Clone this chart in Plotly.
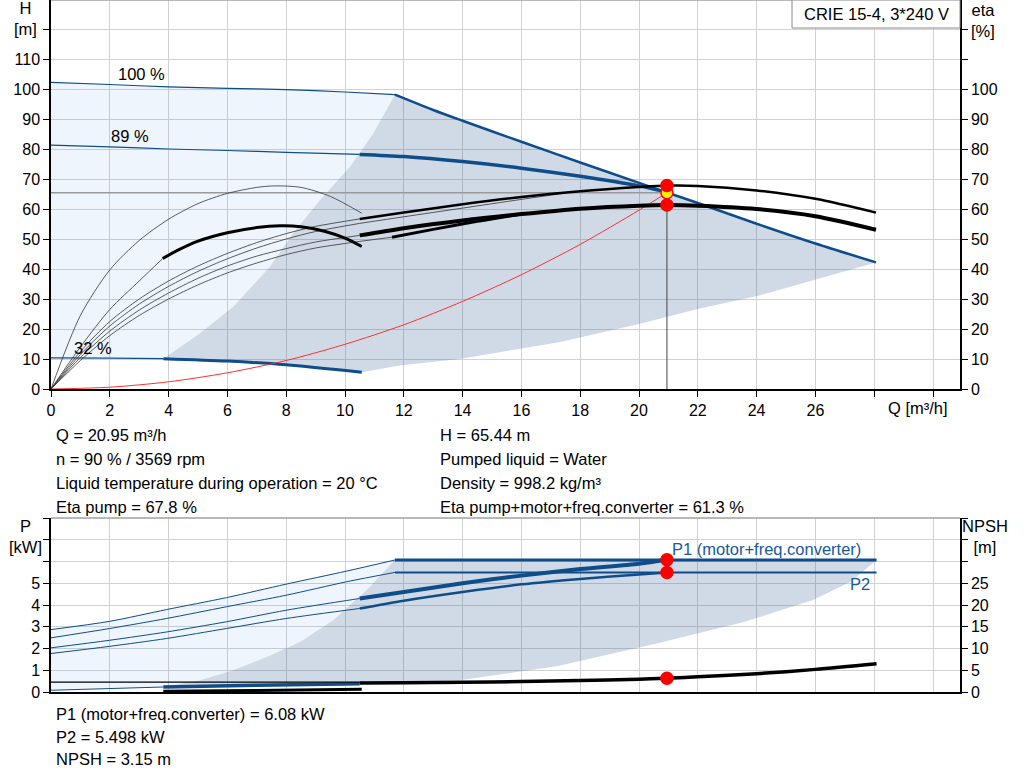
import plotly.graph_objects as go

# duty point
q_op = 20.95
h_op = 65.44
eta_pump_op = 67.8
eta_tot_op = 61.3
p1_op = 6.08
p2_op = 5.498
npsh_op = 3.15

# ---- H curves [m] ----
q_h100 = [0, 2, 4, 6, 8, 10, 11.7]
h_h100 = [102.2, 101.5, 100.7, 100.2, 99.8, 99.0, 98.1]
q_hmax = [11.7, 13, 14, 16, 18, 20, 20.95, 22, 24, 26, 28.06]
h_hmax = [98.1, 93.0, 89.4, 82.4, 75.5, 68.7, 65.5, 62.0, 55.1, 48.5, 42.2]
q_h89 = [0, 2, 4, 6, 8, 10.5]
h_h89 = [81.3, 80.7, 80.0, 79.5, 78.9, 78.2]
q_h89b = [10.5, 12, 14, 16, 18, 20, 20.95]
h_h89b = [78.2, 77.5, 75.8, 73.6, 70.9, 67.7, 65.6]
q_h32 = [0, 2, 3.82]
h_h32 = [10.4, 10.3, 10.1]
q_h32b = [3.82, 6, 8, 10.57]
h_h32b = [10.1, 9.3, 8.1, 5.6]

# range limits in H diagram
q_left = [3.82, 5.07, 6.2, 7.45, 8.24, 9.15, 10.17, 10.96, 11.7]
h_left = [10.1, 18.6, 27.4, 40.8, 51.9, 63.0, 74.1, 85.2, 98.1]
q_low = [10.57, 11.86, 13.9, 17.28, 20, 22, 24.06, 26.1, 28.06]
h_low = [5.6, 7.8, 10.0, 15.6, 21.7, 26.7, 31.1, 36.7, 42.2]

# system curve
q_sys = [0, 2, 4, 6, 8, 10, 12, 14, 16, 18, 20, 20.95]
h_sys = [0, 0.6, 2.4, 5.4, 9.5, 14.9, 21.4, 29.2, 38.1, 48.2, 59.6, 65.44]

# ---- eta curves [%] ----
q_eA = [0, 1, 2, 3, 4, 5, 6, 7, 7.6, 8.5, 9.5, 10.57]
e_eA = [0, 24.5, 39.7, 49.5, 56.6, 61.8, 65.2, 67.2, 67.7, 67.2, 64.2, 58.6]
q_eB = [0, 1, 2, 3, 3.8]
e_eB = [0, 14, 26.5, 36, 43.5]
q_eBb = [3.8, 4.3, 5, 6, 7, 7.8, 8.5, 9.3, 10, 10.57]
e_eBb = [43.5, 46.2, 49.3, 52.1, 53.8, 54.4, 54.1, 52.6, 50.3, 47.5]
q_fan = [0, 1, 2, 3, 4, 5, 6, 7, 8, 9, 10.5]
e_f1 = [0, 12.5, 22.5, 30, 36, 41, 45.2, 48.8, 51.8, 54.2, 56.7]
e_f2 = [0, 11.5, 21, 28.3, 34.2, 39.2, 43.4, 47, 50, 52.5, 55.2]
e_f3 = [0, 10.5, 19.3, 26.3, 32, 36.9, 41, 44.3, 46.8, 49.0, 51.2]
e_f4 = [0, 9.5, 17.8, 24.5, 30, 34.7, 38.7, 42, 44.8, 47, 49.2]
q_f2b = [10.5, 12, 14, 16, 17.5]
e_f2b = [55.2, 57.4, 60.3, 63.2, 65.3]
q_f4b = [10.5, 11.6]
e_f4b = [49.2, 50.6]
q_f4c = [11.6, 13, 14.5, 16]
e_f4c = [50.6, 53.2, 55.9, 58.3]
q_etap = [10.5, 12, 14, 16, 18, 20, 20.95, 22, 24, 26, 28.06]
e_etap = [56.7, 58.8, 61.6, 64.0, 65.9, 67.3, 67.8, 67.7, 66.2, 63.4, 58.8]
q_etat = [10.5, 12, 14, 16, 18, 20, 20.95, 22, 24, 26, 28.06]
e_etat = [51.2, 53.6, 56.2, 58.3, 60.1, 61.1, 61.3, 61.1, 60.0, 57.6, 53.1]

# ---- power curves [kW] ----
q_p100 = [0, 2, 3.93, 5.97, 8, 10.06, 11.7]
p1_100 = [2.87, 3.25, 3.79, 4.34, 4.96, 5.56, 6.07]
p2_100 = [2.49, 2.92, 3.38, 3.92, 4.45, 5.07, 5.5]
q_pmax = [11.7, 28.08]
p1_max = [6.07, 6.07]
p2_max = [5.5, 5.5]
q_p89 = [0, 2, 3.93, 5.97, 8, 10.5]
p1_89 = [2.03, 2.38, 2.76, 3.23, 3.76, 4.3]
p2_89 = [1.77, 2.1, 2.46, 2.92, 3.38, 3.84]
q_pop = [10.5, 12, 14, 16, 18, 20, 20.95]
p1_op_c = [4.3, 4.6, 5.0, 5.35, 5.65, 5.9, 6.08]
p2_op_c = [3.84, 4.2, 4.6, 4.95, 5.2, 5.4, 5.498]
q_p32 = [0, 3.82]
p_p32 = [0.08, 0.23]
q_p32b = [3.82, 7, 10.5]
p_p32b = [0.23, 0.31, 0.38]
q_p32k = [3.82, 7, 10.57]
p_p32k = [0.03, 0.07, 0.13]

q_pleft = [3.82, 5.07, 6.2, 7.34, 8.47, 9.6, 10.74, 11.7]
p_pleft = [0.23, 0.54, 1.0, 1.61, 2.3, 3.3, 4.69, 6.07]
q_plow = [10.5, 12.1, 13.9, 17.25, 20.6, 23.6, 25.9, 27.2, 28.08]
p_plow = [0.38, 0.46, 0.54, 1.2, 2.23, 3.23, 4.22, 5.07, 6.07]

# ---- NPSH [m] ----
q_npsh0 = [0, 10.5]
npsh0 = [2.25, 2.25]
q_npsh = [10.5, 12, 14, 16, 18, 20, 20.95, 22, 24, 26, 28.08]
npsh = [2.05, 2.1, 2.25, 2.4, 2.65, 2.95, 3.15, 3.5, 4.2, 5.2, 6.5]

BLUE = '#0f4d8a'
LIGHT = 'rgba(0,102,204,0.067)'
DARK = 'rgba(20,70,130,0.2)'
GRID = '#d2d2d2'
FONT = 'Arial, Liberation Sans, sans-serif'
TXT = 16.5

# pixel -> paper helpers (margins l=51 r=64 t=0 b=89)
W, H = 1024, 781
ML, MR, MT, MB = 51, 64, 0, 89
PW, PH = W - ML - MR, H - MT - MB


def px(x):
    return (x - ML) / PW


def py(y):
    return (H - MB - y) / PH


fig = go.Figure()


def line(x, y, width, color=BLUE, xa='x', ya='y', shape='spline'):
    fig.add_trace(go.Scatter(x=x, y=y, mode='lines', xaxis=xa, yaxis=ya,
                             line=dict(color=color, width=width, shape=shape, smoothing=0.8),
                             hoverinfo='skip', showlegend=False))


def poly(x, y, color, xa='x', ya='y'):
    fig.add_trace(go.Scatter(x=x, y=y, mode='lines', fill='toself', fillcolor=color,
                             xaxis=xa, yaxis=ya, line=dict(width=0),
                             hoverinfo='skip', showlegend=False))


# fills, H diagram
poly(q_h100 + q_left[::-1] + q_h32[::-1], h_h100 + h_left[::-1] + h_h32[::-1], LIGHT)
poly(q_left + q_hmax[1:] + q_low[::-1] + q_h32b[::-1],
     h_left + h_hmax[1:] + h_low[::-1] + h_h32b[::-1], DARK)

# fills, P diagram
poly(q_p100 + q_pleft[::-1] + q_p32[::-1], p1_100 + p_pleft[::-1] + p_p32[::-1],
     LIGHT, 'x2', 'y3')
poly(q_pleft + q_pmax[1:] + q_plow[::-1] + q_p32b[::-1],
     p_pleft + p1_max[1:] + p_plow[::-1] + p_p32b[::-1], DARK, 'x2', 'y3')

# H curves
line(q_h100, h_h100, 1.2)
line(q_hmax, h_hmax, 2.5)
line(q_h89, h_h89, 1.2)
line(q_h89b, h_h89b, 3.5)
line(q_h32, h_h32, 1.2)
line(q_h32b, h_h32b, 3)

# duty point lines + system curve
line([0, q_op], [h_op, h_op], 1.5, '#9a9a9a', shape='linear')
line([q_op, q_op], [0, h_op], 1, '#444444', shape='linear')
line(q_sys, h_sys, 1, '#ff3030')

# eta curves
line(q_eA, e_eA, 0.8, '#333333', ya='y2')
line(q_eB, e_eB, 0.8, '#333333', ya='y2')
for ee in [e_f1, e_f2, e_f3, e_f4]:
    line(q_fan, ee, 0.8, '#333333', ya='y2')
line(q_f2b, e_f2b, 0.8, '#333333', ya='y2')
line(q_f4b, e_f4b, 0.8, '#333333', ya='y2')
line(q_eBb, e_eBb, 3, 'black', ya='y2')
line(q_f4c, e_f4c, 3, 'black', ya='y2')
line(q_etap, e_etap, 2.5, 'black', ya='y2')
line(q_etat, e_etat, 4, 'black', ya='y2')

# P curves
line(q_p100, p1_100, 1, BLUE, 'x2', 'y3')
line(q_p100, p2_100, 1, BLUE, 'x2', 'y3')
line(q_pmax, p1_max, 3, BLUE, 'x2', 'y3', 'linear')
line(q_pmax, p2_max, 2, BLUE, 'x2', 'y3', 'linear')
line(q_p89, p1_89, 1, BLUE, 'x2', 'y3')
line(q_p89, p2_89, 1, BLUE, 'x2', 'y3')
line(q_pop, p1_op_c, 4, BLUE, 'x2', 'y3')
line(q_pop, p2_op_c, 2.5, BLUE, 'x2', 'y3')
line(q_p32, p_p32, 1, BLUE, 'x2', 'y3', 'linear')
line(q_p32b, p_p32b, 3.5, BLUE, 'x2', 'y3')
line(q_p32k, p_p32k, 3, 'black', 'x2', 'y3')

# NPSH
line(q_npsh0, npsh0, 1.2, 'black', 'x2', 'y4', 'linear')
line(q_npsh, npsh, 3.5, 'black', 'x2', 'y4')


# duty point markers
def dot(x, y, ya, xa='x', fill='#ff0000', edge='#ff0000'):
    fig.add_trace(go.Scatter(x=[x], y=[y], mode='markers', xaxis=xa, yaxis=ya,
                             marker=dict(size=12, color=fill, line=dict(color=edge, width=1.5)),
                             hoverinfo='skip', showlegend=False))


dot(q_op, eta_pump_op, 'y2')
dot(q_op, h_op, 'y', fill='#ffee00')
dot(q_op, eta_tot_op, 'y2')
dot(q_op, p1_op, 'y3', 'x2')
dot(q_op, p2_op, 'y3', 'x2')
dot(q_op, npsh_op, 'y4', 'x2')

top_dom = [py(389), 1]
bot_dom = [0, py(518)]
xr = [0, PW / 29.4]
ax = dict(showline=True, linecolor='black', linewidth=1.5, ticks='outside', ticklen=6,
          tickcolor='black', tickfont=dict(size=16, color='black', family=FONT),
          gridcolor=GRID, gridwidth=1, zeroline=False)

q_ticks = list(range(0, 31, 2))
q_text = [str(v) if v <= 26 else '' for v in q_ticks]

fig.update_layout(
    width=W, height=H, margin=dict(l=ML, r=MR, t=MT, b=MB),
    paper_bgcolor='white', plot_bgcolor='white',
    font=dict(family=FONT, size=TXT, color='black'),
    xaxis=dict(ax, domain=[0, 1], anchor='y', range=xr, tickvals=q_ticks, ticktext=q_text),
    xaxis2=dict(ax, domain=[0, 1], anchor='y3', range=xr, tickvals=q_ticks,
                showticklabels=False, ticks=''),
    yaxis=dict(ax, domain=top_dom, anchor='x', range=[0, 389 / 3],
               tickvals=list(range(0, 130, 10)),
               ticktext=[str(v) if v <= 110 else '' for v in range(0, 130, 10)]),
    yaxis2=dict(ax, overlaying='y', side='right', anchor='x', range=[0, 389 / 3],
                tickvals=list(range(0, 130, 10)), showgrid=False,
                ticktext=[str(v) if v <= 100 else '' for v in range(0, 130, 10)]),
    yaxis3=dict(ax, domain=bot_dom, anchor='x2', range=[0, 8], tickvals=list(range(0, 9)),
                ticktext=[str(v) if v <= 5 else '' for v in range(0, 9)]),
    yaxis4=dict(ax, overlaying='y3', side='right', anchor='x2', range=[0, 40],
                tickvals=list(range(0, 45, 5)), showgrid=False,
                ticktext=[str(v) if v <= 25 else '' for v in range(0, 45, 5)]),
)

# frame top edges
fig.add_shape(type='line', xref='paper', yref='paper', x0=0, x1=1, y0=1, y1=1,
              line=dict(color='#a0a0a0', width=1.5))
fig.add_shape(type='line', xref='paper', yref='paper', x0=0, x1=1, y0=py(518), y1=py(518),
              line=dict(color='#a0a0a0', width=1.5))

# title box
fig.add_shape(type='rect', xref='paper', yref='paper', x0=px(792), x1=1, y0=py(28), y1=1,
              line=dict(color='#8a8a8a', width=1), fillcolor='white')


def note(x, y, text, anchor='left', color='black', size=TXT):
    fig.add_annotation(x=px(x), y=py(y), xref='paper', yref='paper', text=text,
                       showarrow=False, xanchor=anchor, yanchor='middle',
                       font=dict(size=size, color=color, family=FONT))


note(876, 14, 'CRIE 15-4, 3*240 V', 'center')
note(25, 19, 'H<br>[m]', 'center')
note(983, 20, 'eta<br>[%]', 'center')
note(918, 408, 'Q [m³/h]', 'center')
note(25, 536, 'P<br>[kW]', 'center')
note(985, 536, 'NPSH<br>[m]', 'center')

# curve labels
for qq, hh, t in [(3.08, 105, '100 %'), (2.69, 84.3, '89 %'), (1.42, 13.8, '32 %')]:
    fig.add_annotation(x=qq, y=hh, text=t, showarrow=False, font=dict(size=TXT))
note(766, 549, 'P1 (motor+freq.converter)', 'center', '#1a5a99')
note(860, 584, 'P2', 'center', '#1a5a99')

left_col = ['Q = 20.95 m³/h', 'n = 90 % / 3569 rpm',
            'Liquid temperature during operation = 20 °C', 'Eta pump = 67.8 %']
right_col = ['H = 65.44 m', 'Pumped liquid = Water', 'Density = 998.2 kg/m³',
             'Eta pump+motor+freq.converter = 61.3 %']
for i, (a, b) in enumerate(zip(left_col, right_col)):
    note(54, 435 + 24 * i, a)
    note(438, 435 + 24 * i, b)

bottom_lines = ['P1 (motor+freq.converter) = 6.08 kW', 'P2 = 5.498 kW', 'NPSH = 3.15 m']
for i, t in enumerate(bottom_lines):
    note(54, 714 + 22.5 * i, t)

fig.write_html('out.html', config={'displayModeBar': False},
               post_script="document.body.style.margin='0px';")
